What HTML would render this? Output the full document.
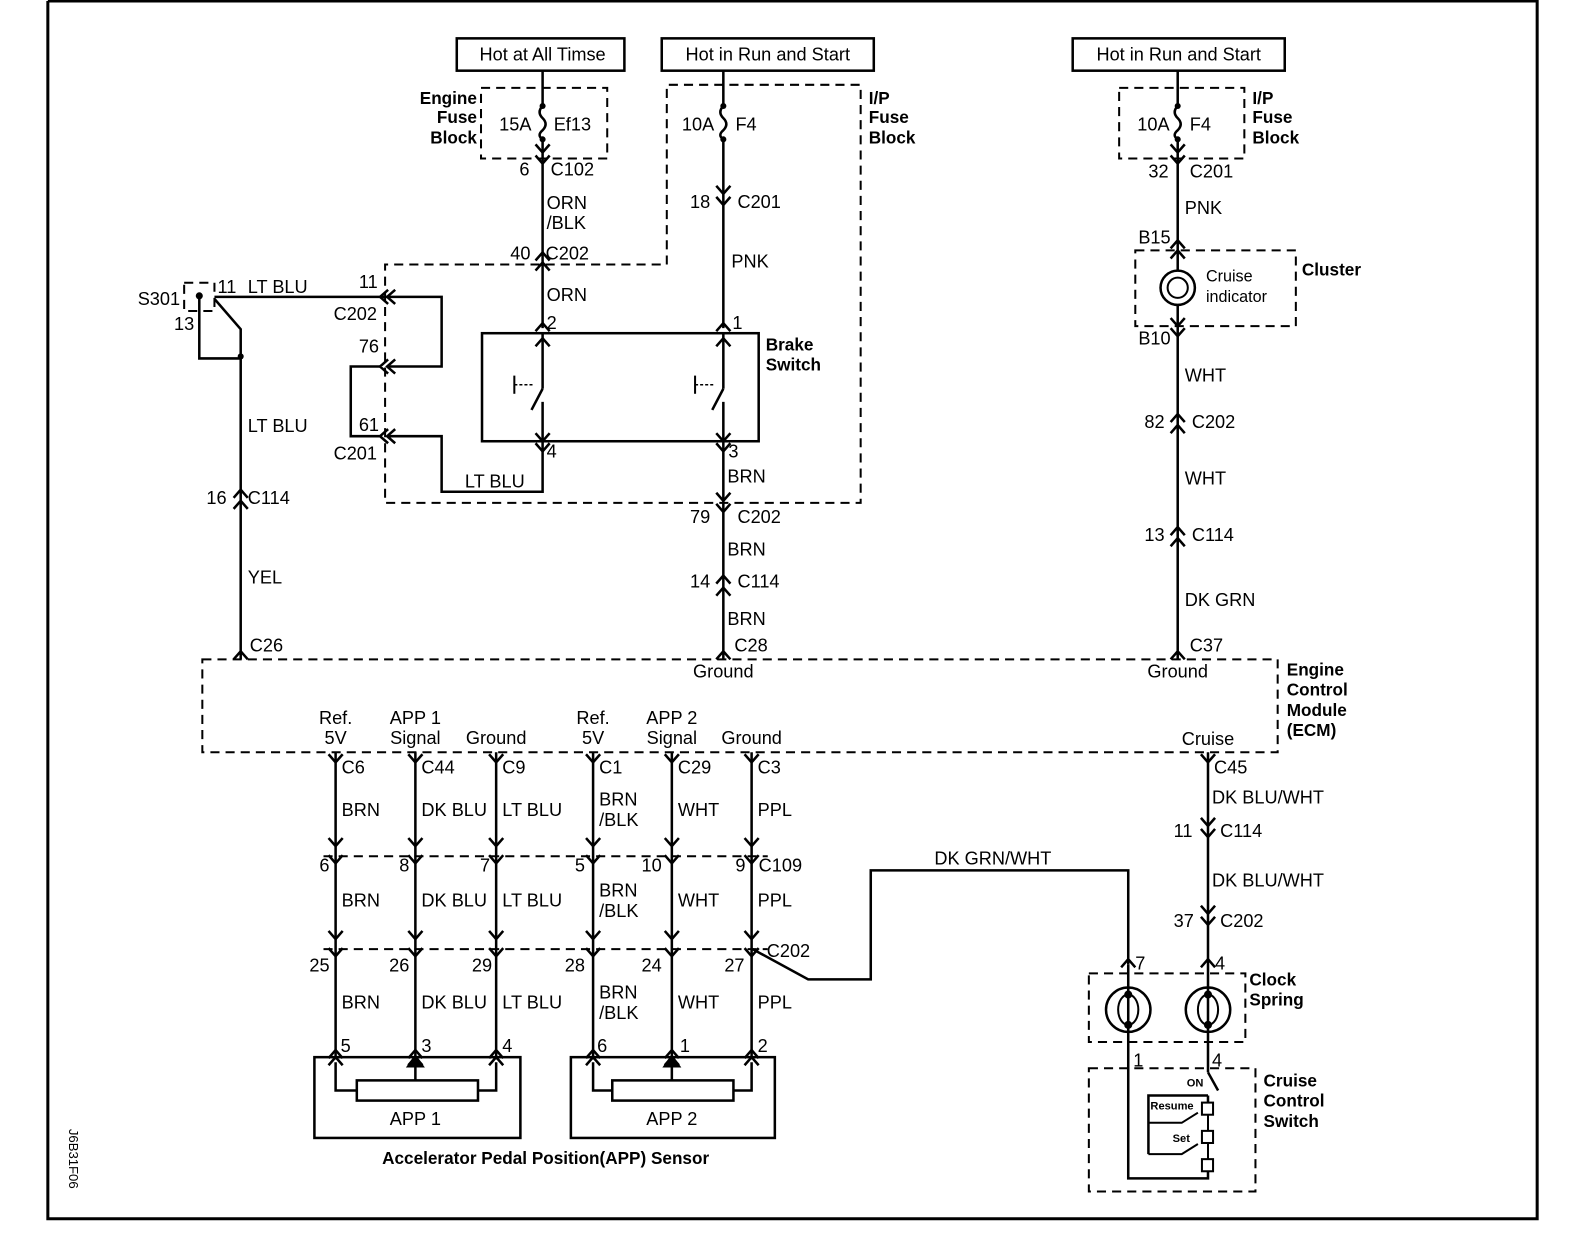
<!DOCTYPE html>
<html><head><meta charset="utf-8"><style>
html,body{margin:0;padding:0;background:#fff;}
svg{display:block;}
text{font-family:"Liberation Sans",Arial,sans-serif;font-size:18px;fill:#000;}
.b{font-weight:bold;font-size:17px;}
.s{font-size:11px;font-weight:bold;}
</style></head><body>
<svg id="d" width="1584" height="1248" viewBox="0 0 1568 1236" xmlns="http://www.w3.org/2000/svg">
<g fill="none" stroke="#000" stroke-width="2.5" id="g">
<polyline points="47,1 1522,1 1522,1207 47,1207 47,1" stroke-width="3"/>
<rect x="452" y="38" width="166" height="32"/>
<rect x="655" y="38" width="210" height="32"/>
<rect x="1062" y="38" width="210" height="32"/>
<g stroke-dasharray="9,6" stroke-width="2">
<rect x="476" y="87" width="125" height="70"/>
<polyline points="660,262 660,84 852,84 852,498 381,498 381,262 660,262"/>
<rect x="1108" y="87" width="124" height="70"/>
<rect x="1124" y="248" width="159" height="75"/>
<rect x="182" y="280" width="30" height="28"/>
<rect x="200" y="653" width="1065" height="92"/>
<line x1="320" y1="848" x2="760" y2="848"/>
<line x1="320" y1="940" x2="760" y2="940"/>
<rect x="1078" y="964" width="155" height="68"/>
<rect x="1078" y="1058" width="165" height="122"/>
</g>
<line x1="537" y1="70" x2="537" y2="105"/><line x1="537" y1="138" x2="537" y2="325"/>
<path d="M537,105 q-6,6 0,12 q6,6 0,12 q-6,5 0,9"/>
<line x1="716" y1="70" x2="716" y2="105"/><line x1="716" y1="138" x2="716" y2="325"/>
<path d="M716,105 q-6,6 0,12 q6,6 0,12 q-6,5 0,9"/>
<line x1="1166" y1="70" x2="1166" y2="105"/><line x1="1166" y1="138" x2="1166" y2="268"/>
<path d="M1166,105 q-6,6 0,12 q6,6 0,12 q-6,5 0,9"/>
<rect x="477" y="330" width="274" height="107"/>
<line x1="537" y1="330" x2="537" y2="385"/><line x1="537" y1="398" x2="537" y2="447"/>
<line x1="716" y1="330" x2="716" y2="385"/><line x1="716" y1="398" x2="716" y2="447"/>
<line x1="537" y1="385" x2="526" y2="406"/><line x1="716" y1="385" x2="705" y2="406"/>
<line x1="509" y1="372" x2="509" y2="390" stroke-width="2"/><line x1="509" y1="381" x2="528" y2="381" stroke-width="1.5" stroke-dasharray="3,2"/>
<line x1="688" y1="372" x2="688" y2="390" stroke-width="2"/><line x1="688" y1="381" x2="707" y2="381" stroke-width="1.5" stroke-dasharray="3,2"/>
<polyline points="537,447 537,487 437,487 437,432 383,432"/>
<line x1="716" y1="447" x2="716" y2="653"/>
<polyline points="212,294 383,294"/>
<polyline points="383,294 437,294 437,363 383,363"/>
<polyline points="376,363 347,363 347,432 376,432"/>
<polyline points="197,293 197,355 238,355"/>
<polyline points="212,296 238,326 238,653"/>
<circle cx="1166" cy="285" r="17"/><circle cx="1166" cy="285" r="10" stroke-width="2"/>
<line x1="1166" y1="302" x2="1166" y2="653"/>
<line x1="1196" y1="745" x2="1196" y2="1062"/>
<polyline points="1117,955 1117,862 862,862 862,970 800,970 745,940"/>
<circle cx="1117" cy="1000" r="22"/><circle cx="1196" cy="1000" r="22"/>
<ellipse cx="1117" cy="1000" rx="10" ry="15" stroke-width="2"/><ellipse cx="1196" cy="1000" rx="10" ry="15" stroke-width="2"/>
<polyline points="1117,955 1117,1167 1196,1167 1196,1160"/>
<line x1="1196" y1="1062" x2="1206" y2="1080"/>
<polyline points="1196,1085 1196,1092"/>
<polyline points="1137,1143 1137,1085 1196,1085"/>
<rect x="1190" y="1092" width="11" height="12" stroke-width="2"/>
<rect x="1190" y="1120" width="11" height="12" stroke-width="2"/>
<rect x="1190" y="1148" width="11" height="12" stroke-width="2"/>
<polyline points="1137,1112 1170,1112 1186,1102" stroke-width="2"/>
<polyline points="1137,1143 1170,1143 1186,1133" stroke-width="2"/>
<line x1="1196" y1="1104" x2="1196" y2="1120" stroke-width="2"/>
<line x1="1196" y1="1132" x2="1196" y2="1148" stroke-width="2"/>
<rect x="311" y="1047" width="204" height="80"/>
<rect x="565" y="1047" width="202" height="80"/>
<rect x="353" y="1070" width="120" height="20"/>
<rect x="606" y="1070" width="120" height="20"/>
<polyline points="332,1052 332,1080 353,1080"/><polyline points="491,1052 491,1080 473,1080"/>
<polyline points="587,1052 587,1080 606,1080"/><polyline points="744,1052 744,1080 726,1080"/>
<line x1="411" y1="1055" x2="411" y2="1070"/><line x1="665" y1="1055" x2="665" y2="1070"/>
<path d="M404,1056 L411,1046 L418,1056Z M658,1056 L665,1046 L672,1056Z" fill="#000"/>
</g>
<g fill="#000">
<circle cx="537" cy="105" r="3"/><circle cx="537" cy="138" r="3"/>
<circle cx="716" cy="105" r="3"/><circle cx="716" cy="138" r="3"/>
<circle cx="1166" cy="105" r="3"/><circle cx="1166" cy="138" r="3"/>
<circle cx="197" cy="293" r="3.5"/><circle cx="238" cy="353" r="3"/>
<circle cx="1117" cy="985" r="4"/><circle cx="1117" cy="1015" r="4"/>
<circle cx="1196" cy="985" r="4"/><circle cx="1196" cy="1015" r="4"/>
</g>
<g id="ch" fill="none" stroke="#000" stroke-width="2.5"></g>
<text x="537" y="60" text-anchor="middle">Hot at All Timse</text>
<text x="760" y="60" text-anchor="middle">Hot in Run and Start</text>
<text x="1167" y="60" text-anchor="middle">Hot in Run and Start</text>
<g class="b"><text class="b" x="472" y="103" text-anchor="end">Engine</text><text class="b" x="472" y="122" text-anchor="end">Fuse</text><text class="b" x="472" y="142" text-anchor="end">Block</text>
<text class="b" x="860" y="103">I/P</text><text class="b" x="860" y="122">Fuse</text><text class="b" x="860" y="142">Block</text>
<text class="b" x="1240" y="103">I/P</text><text class="b" x="1240" y="122">Fuse</text><text class="b" x="1240" y="142">Block</text>
<text class="b" x="758" y="347">Brake</text><text class="b" x="758" y="367">Switch</text>
<text class="b" x="1289" y="273">Cluster</text>
<text class="b" x="1274" y="669">Engine</text><text class="b" x="1274" y="689">Control</text><text class="b" x="1274" y="709">Module</text><text class="b" x="1274" y="729">(ECM)</text>
<text class="b" x="1237" y="976">Clock</text><text class="b" x="1237" y="996">Spring</text>
<text class="b" x="1251" y="1076">Cruise</text><text class="b" x="1251" y="1096">Control</text><text class="b" x="1251" y="1116">Switch</text>
<text class="b" x="540" y="1153" text-anchor="middle">Accelerator Pedal Position(APP) Sensor</text></g>
<text x="494" y="129">15A</text><text x="548" y="129">Ef13</text>
<text x="675" y="129">10A</text><text x="728" y="129">F4</text>
<text x="1126" y="129">10A</text><text x="1178" y="129">F4</text>
<text x="514" y="174">6</text><text x="545" y="174">C102</text>
<text x="541" y="207">ORN</text><text x="541" y="227">/BLK</text>
<text x="505" y="257">40</text><text x="540" y="257">C202</text>
<text x="541" y="298">ORN</text><text x="541" y="326">2</text>
<text x="683" y="206">18</text><text x="730" y="206">C201</text>
<text x="724" y="265">PNK</text><text x="725" y="326">1</text>
<text x="541" y="453">4</text><text x="721" y="453">3</text>
<text x="460" y="483">LT BLU</text><text x="720" y="478">BRN</text>
<text x="683" y="518">79</text><text x="730" y="518">C202</text>
<text x="720" y="550">BRN</text>
<text x="683" y="582">14</text><text x="730" y="582">C114</text>
<text x="720" y="619">BRN</text><text x="727" y="645">C28</text>
<text x="136" y="302">S301</text><text x="215" y="290">11</text><text x="172" y="327">13</text>
<text x="245" y="290">LT BLU</text>
<text x="355" y="285">11</text><text x="330" y="317">C202</text>
<text x="355" y="349">76</text><text x="355" y="427">61</text><text x="330" y="455">C201</text>
<text x="245" y="428">LT BLU</text>
<text x="204" y="499">16</text><text x="245" y="499">C114</text>
<text x="245" y="578">YEL</text><text x="247" y="645">C26</text>
<text x="1137" y="176">32</text><text x="1178" y="176">C201</text>
<text x="1173" y="212">PNK</text><text x="1127" y="241">B15</text>
<text x="1194" y="279" style="font-size:16px">Cruise</text><text x="1194" y="299" style="font-size:16px">indicator</text>
<text x="1127" y="341">B10</text><text x="1173" y="378">WHT</text>
<text x="1133" y="424">82</text><text x="1180" y="424">C202</text>
<text x="1173" y="480">WHT</text>
<text x="1133" y="536">13</text><text x="1180" y="536">C114</text>
<text x="1173" y="600">DK GRN</text><text x="1178" y="645">C37</text>
<text x="716" y="671" text-anchor="middle">Ground</text><text x="1166" y="671" text-anchor="middle">Ground</text>
<g text-anchor="middle"><text x="332" y="717">Ref.</text><text x="332" y="737">5V</text>
<text x="411" y="717">APP 1</text><text x="411" y="737">Signal</text><text x="491" y="737">Ground</text>
<text x="587" y="717">Ref.</text><text x="587" y="737">5V</text>
<text x="665" y="717">APP 2</text><text x="665" y="737">Signal</text><text x="744" y="737">Ground</text>
<text x="1196" y="738">Cruise</text>
<text x="411" y="1114">APP 1</text><text x="665" y="1114">APP 2</text></g>
<text x="338" y="766">C6</text><text x="417" y="766">C44</text><text x="497" y="766">C9</text><text x="593" y="766">C1</text><text x="671" y="766">C29</text><text x="750" y="766">C3</text>
<g id="wl"></g>
<text x="326" y="863" text-anchor="end">6</text><text x="405" y="863" text-anchor="end">8</text><text x="485" y="863" text-anchor="end">7</text><text x="579" y="863" text-anchor="end">5</text><text x="655" y="863" text-anchor="end">10</text><text x="738" y="863" text-anchor="end">9</text><text x="751" y="863">C109</text>
<text x="326" y="962" text-anchor="end">25</text><text x="405" y="962" text-anchor="end">26</text><text x="487" y="962" text-anchor="end">29</text><text x="579" y="962" text-anchor="end">28</text><text x="655" y="962" text-anchor="end">24</text><text x="737" y="962" text-anchor="end">27</text><text x="759" y="948">C202</text>
<text x="337" y="1042">5</text><text x="417" y="1042">3</text><text x="497" y="1042">4</text><text x="591" y="1042">6</text><text x="673" y="1042">1</text><text x="750" y="1042">2</text>
<text x="925" y="856">DK GRN/WHT</text>
<text x="1202" y="766">C45</text><text x="1200" y="796">DK BLU/WHT</text>
<text x="1162" y="829">11</text><text x="1208" y="829">C114</text>
<text x="1200" y="878">DK BLU/WHT</text>
<text x="1162" y="918">37</text><text x="1208" y="918">C202</text>
<text x="1124" y="960">7</text><text x="1203" y="960">4</text>
<text x="1122" y="1056">1</text><text x="1200" y="1056">4</text>
<text class="s" x="1175" y="1076">ON</text><text class="s" x="1139" y="1099">Resume</text><text class="s" x="1161" y="1131">Set</text>
<text x="0" y="0" transform="translate(68,1118) rotate(90)" style="font-size:13px">J6B31F06</text>
</svg>
<script>
var ns="http://www.w3.org/2000/svg",ch=document.getElementById('ch'),d='';
function dn(x,y){d+='M'+(x-7)+','+(y-8)+'L'+x+','+y+'L'+(x+7)+','+(y-8);}
function up(x,y){d+='M'+(x-7)+','+(y+8)+'L'+x+','+y+'L'+(x+7)+','+(y+8);}
function lf(x,y){d+='M'+(x+8)+','+(y-7)+'L'+x+','+y+'L'+(x+8)+','+(y+7);}
dn(537,151);dn(537,162);up(537,250);up(537,260);up(537,320);up(537,335);dn(537,437);dn(537,447);
dn(716,192);dn(716,203);up(716,320);up(716,335);dn(716,437);dn(716,447);dn(716,496);dn(716,507);up(716,570);up(716,582);up(716,645);
lf(376,294);lf(383,294);lf(376,363);lf(383,363);lf(376,432);lf(383,432);
up(238,485);up(238,496);up(238,645);
dn(1166,151);dn(1166,162);up(1166,238);up(1166,248);dn(1166,323);dn(1166,333);up(1166,410);up(1166,421);up(1166,522);up(1166,533);up(1166,645);
dn(1196,755);dn(1196,818);dn(1196,829);dn(1196,905);dn(1196,916);up(1196,950);up(1117,950);
var cols=[332,411,491,587,665,744];
cols.forEach(function(x){dn(x,755);dn(x,838);dn(x,855);dn(x,930);dn(x,947);up(x,1040);up(x,1047);
var l=document.createElementNS(ns,'line');l.setAttribute('x1',x);l.setAttribute('x2',x);l.setAttribute('y1',745);l.setAttribute('y2',1047);ch.appendChild(l);});
var p=document.createElementNS(ns,'path');p.setAttribute('d',d);ch.appendChild(p);
var wl=document.getElementById('wl');
var lab=['BRN','DK BLU','LT BLU',null,'WHT','PPL'];
[808,898,999].forEach(function(y){cols.forEach(function(x,i){
function t(s,yy){var e=document.createElementNS(ns,'text');e.setAttribute('x',x+6);e.setAttribute('y',yy);e.textContent=s;wl.appendChild(e);}
if(lab[i])t(lab[i],y);else{t('BRN',y-10);t('/BLK',y+10);}});});
</script>
</body></html>
